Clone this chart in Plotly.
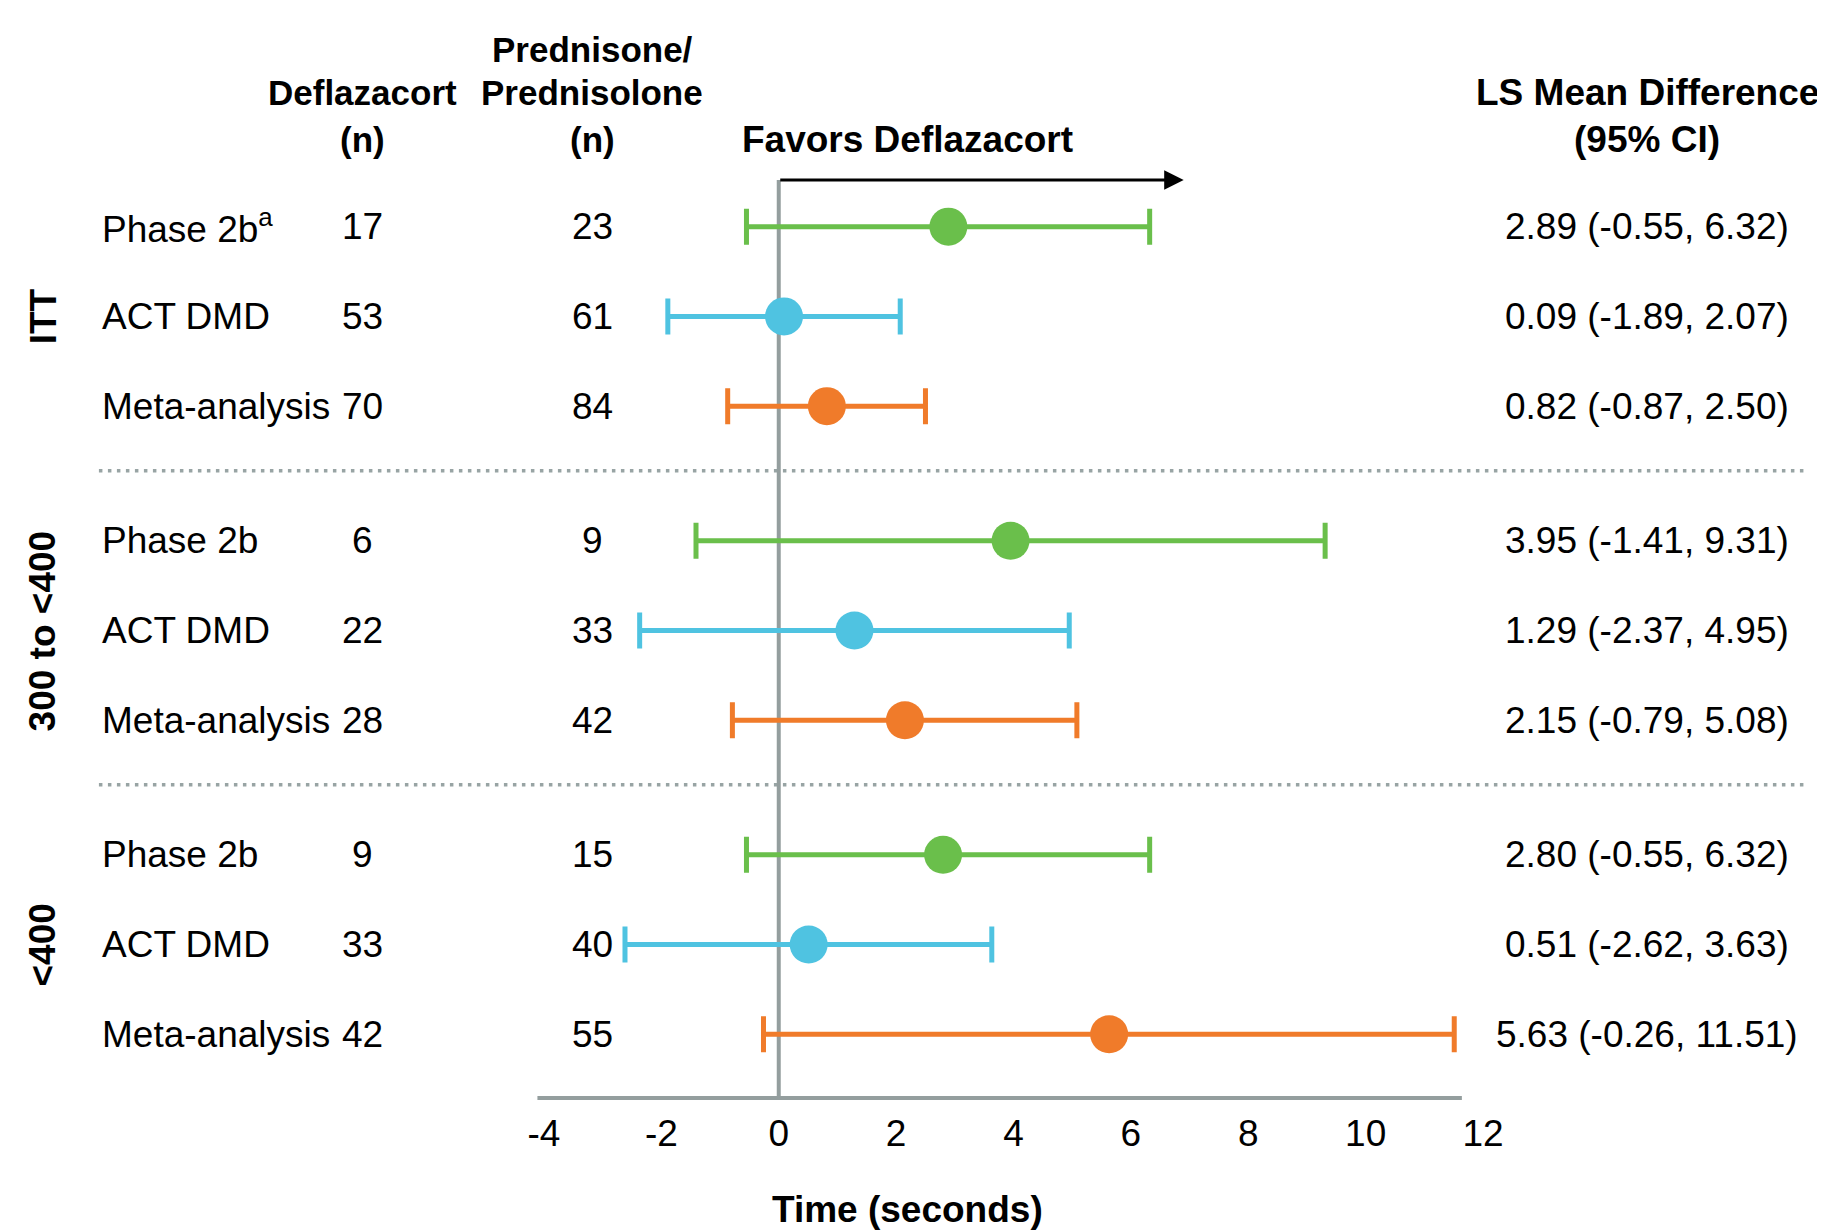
import plotly.graph_objects as go

# ---------------- data ----------------
groups = ["ITT", "300 to <400", "<400"]
study_types = ["Phase 2b", "ACT DMD", "Meta-analysis"]
row_labels = ["Phase 2b<sup>a</sup>", "ACT DMD", "Meta-analysis",
              "Phase 2b", "ACT DMD", "Meta-analysis",
              "Phase 2b", "ACT DMD", "Meta-analysis"]
row_group = [0, 0, 0, 1, 1, 1, 2, 2, 2]
row_type = [0, 1, 2, 0, 1, 2, 0, 1, 2]
n_deflazacort = [17, 53, 70, 6, 22, 28, 9, 33, 42]
n_prednisone = [23, 61, 84, 9, 33, 42, 15, 40, 55]
ls_mean = [2.89, 0.09, 0.82, 3.95, 1.29, 2.15, 2.80, 0.51, 5.63]
ci_low = [-0.55, -1.89, -0.87, -1.41, -2.37, -0.79, -0.55, -2.62, -0.26]
ci_high = [6.32, 2.07, 2.50, 9.31, 4.95, 5.08, 6.32, 3.63, 11.51]
ci_text = ["2.89 (-0.55, 6.32)", "0.09 (-1.89, 2.07)", "0.82 (-0.87, 2.50)",
           "3.95 (-1.41, 9.31)", "1.29 (-2.37, 4.95)", "2.15 (-0.79, 5.08)",
           "2.80 (-0.55, 6.32)", "0.51 (-2.62, 3.63)", "5.63 (-0.26, 11.51)"]
x_ticks = [-4, -2, 0, 2, 4, 6, 8, 10, 12]
x_tick_labels = ["-4", "-2", "0", "2", "4", "6", "8", "10", "12"]

# ---------------- style ----------------
FONT = "Liberation Sans, Arial, Helvetica, sans-serif"
FS = 37
colors = ["#6abf4b", "#4fc3e1", "#f07b2a"]
GREY = "#949e9e"
GROUP_STEP = 3.5

row_y = [g * GROUP_STEP + t for g, t in zip(row_group, row_type)]
Y_TOP, Y_BOT = -0.52, 9.71

fig = go.Figure()

for t, name in enumerate(study_types):
    idx = [i for i in range(len(ls_mean)) if row_type[i] == t]
    fig.add_trace(go.Scatter(
        x=[ls_mean[i] for i in idx],
        y=[row_y[i] for i in idx],
        mode="markers",
        name=name,
        marker=dict(size=38, color=colors[t], line=dict(width=0)),
        error_x=dict(type="data", symmetric=False,
                     array=[ci_high[i] - ls_mean[i] for i in idx],
                     arrayminus=[ls_mean[i] - ci_low[i] for i in idx],
                     color=colors[t], thickness=5, width=18),
        showlegend=False,
        cliponaxis=False,
    ))

shapes = []
# zero line
shapes.append(dict(type="line", xref="x", yref="y", x0=0, x1=0, y0=Y_TOP, y1=Y_BOT,
                   line=dict(color=GREY, width=4), layer="below"))
# bottom axis line
shapes.append(dict(type="line", xref="paper", yref="paper", x0=-0.007, x1=0.9775, y0=0, y1=0,
                   line=dict(color=GREY, width=4), layer="below"))
# group separators
for ysep in [2.72, 6.22]:
    shapes.append(dict(type="line", xref="paper", yref="y", x0=-0.474, x1=1.342,
                       y0=ysep, y1=ysep,
                       line=dict(color="#98a4a4", width=3.5, dash="3.5px,5.5px"), layer="below"))

ann = []
txt = dict(family=FONT, size=FS, color="black")
hdr = dict(family=FONT, size=35, color="black")
# arrow
ann.append(dict(x=6.9, y=Y_TOP, ax=0, ay=Y_TOP, xref="x", yref="y", axref="x", ayref="y",
                text="", showarrow=True, arrowhead=2, arrowsize=1.3, arrowwidth=3,
                arrowcolor="black", standoff=0, startstandoff=0))
ann.append(dict(x=0.3876, y=1.0436, xref="paper", yref="paper", text="<b>Favors Deflazacort</b>",
                showarrow=False, font=txt, xanchor="center", yanchor="middle"))

# headers
X_LABEL, X_DEF, X_PRED, X_CI, X_GROUP = -0.4728, -0.1928, 0.0516, 1.1747, -0.5336
Y_H1, Y_H2, Y_H3 = 1.1427, 1.0948, 1.0436
for x, y, s, f in [(X_DEF, Y_H2, "Deflazacort", hdr), (X_DEF, Y_H3, "(n)", hdr),
                   (X_PRED, Y_H1, "Prednisone/", hdr), (X_PRED, Y_H2, "Prednisolone", hdr),
                   (X_PRED, Y_H3, "(n)", hdr),
                   (X_CI, Y_H2, "LS Mean Difference", txt), (X_CI, Y_H3, "(95% CI)", txt)]:
    ann.append(dict(x=x, y=y, xref="paper", yref="paper", text="<b>" + s + "</b>",
                    showarrow=False, font=f, xanchor="center", yanchor="middle"))

# rows
for i in range(len(ls_mean)):
    ann.append(dict(x=X_LABEL, y=row_y[i], xref="paper", yref="y", text=row_labels[i],
                    showarrow=False, font=txt, xanchor="left", yanchor="middle"))
    ann.append(dict(x=X_DEF, y=row_y[i], xref="paper", yref="y", text=str(n_deflazacort[i]),
                    showarrow=False, font=txt, xanchor="center", yanchor="middle"))
    ann.append(dict(x=X_PRED, y=row_y[i], xref="paper", yref="y", text=str(n_prednisone[i]),
                    showarrow=False, font=txt, xanchor="center", yanchor="middle"))
    ann.append(dict(x=X_CI, y=row_y[i], xref="paper", yref="y", text=ci_text[i],
                    showarrow=False, font=txt, xanchor="center", yanchor="middle"))

# group labels
for g, name in enumerate(groups):
    ann.append(dict(x=X_GROUP, y=g * GROUP_STEP + 1, xref="paper", yref="y",
                    text="<b>" + name + "</b>", textangle=-90,
                    showarrow=False, font=txt, xanchor="center", yanchor="middle"))

# x axis title
ann.append(dict(x=0.3876, y=-0.122, xref="paper", yref="paper", text="<b>Time (seconds)</b>",
                showarrow=False, font=txt, xanchor="center", yanchor="middle"))

fig.update_layout(
    width=1817, height=1222,
    margin=dict(l=536, r=342, t=172, b=132),
    paper_bgcolor="white", plot_bgcolor="white",
    font=dict(family=FONT, size=FS, color="black"),
    shapes=shapes, annotations=ann,
    xaxis=dict(range=[-4, 12], tickvals=x_ticks, ticktext=x_tick_labels,
               showgrid=False, zeroline=False, showline=False, ticks="",
               tickfont=dict(family=FONT, size=FS, color="black"), ticklabelstandoff=10,
               fixedrange=True),
    yaxis=dict(range=[Y_BOT, Y_TOP], visible=False, fixedrange=True),
)

fig.write_html("out.html")
